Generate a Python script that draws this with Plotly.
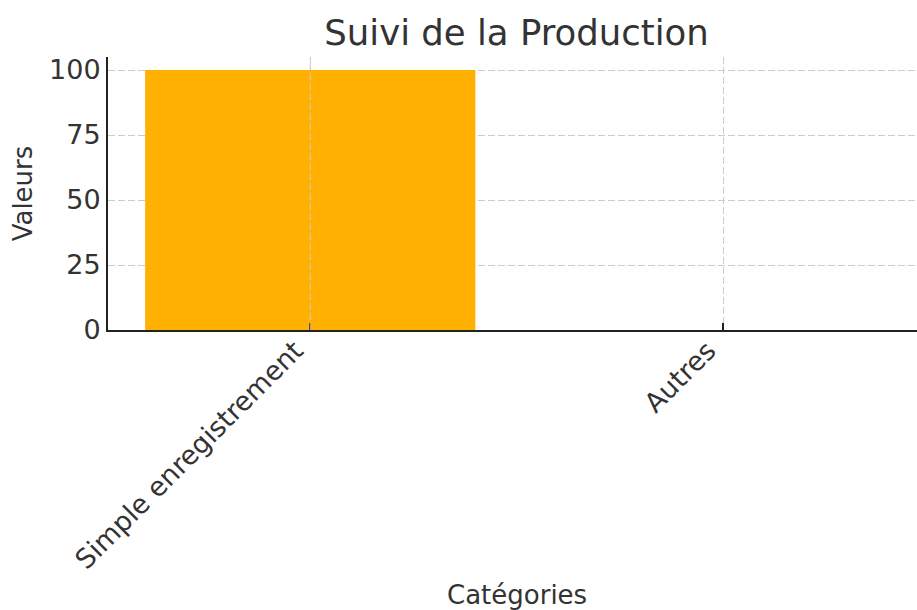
import plotly.graph_objects as go

categories = ["Simple enregistrement", "Autres"]
values = [100, 0]
y_ticks = [0, 25, 50, 75, 100]

title_text = "Suivi de la Production"
x_title = "Catégories"
y_title = "Valeurs"

bar_color = "#FFB000"
text_color = "#333333"
font_family = "DejaVu Sans"
grid_dash = "7px,3px"

W, H = 917, 610
plot_top, plot_bottom, plot_left = 57, 330, 108
plot_h = plot_bottom - plot_top

fig = go.Figure()
fig.add_trace(go.Bar(x=categories, y=values, marker=dict(color=bar_color, line=dict(width=0)),
                     width=0.8, showlegend=False))

# vertical dashed grid line drawn above the first bar (as in the reference)
fig.add_shape(type="line", xref="x", yref="paper", x0=categories[0], x1=categories[0],
              y0=0, y1=1, line=dict(color="#cccccc", width=1, dash=grid_dash), layer="above")

fig.add_annotation(text=x_title, xref="paper", yref="paper", x=0.505,
                   y=-(595 - plot_bottom) / plot_h, xanchor="center", yanchor="middle",
                   showarrow=False, font=dict(size=26, color=text_color, family=font_family))

fig.update_layout(
    width=W, height=H,
    margin=dict(l=plot_left, r=0, t=plot_top, b=H - plot_bottom),
    paper_bgcolor="white", plot_bgcolor="white",
    font=dict(family=font_family, color=text_color, size=26),
    title=dict(text=title_text, x=0.505, xref="paper", xanchor="center",
               y=1 - 33 / H, yref="container", yanchor="middle",
               font=dict(size=35.5, color=text_color, family=font_family)),
)

fig.update_xaxes(
    range=[-0.49, 1.47], automargin=False,
    showline=True, linecolor="#222222", linewidth=2,
    showgrid=True, gridcolor="#cccccc", griddash=grid_dash, gridwidth=1,
    ticks="inside", ticklen=7, tickcolor="#222222", tickwidth=1.5,
    tickangle=-45, tickfont=dict(size=27, color=text_color),
    ticklabelshift=-15, ticklabelstandoff=-8,
    zeroline=False,
)
fig.update_yaxes(
    range=[0, 105], tickvals=y_ticks, automargin=False,
    showline=True, linecolor="#222222", linewidth=2,
    showgrid=True, gridcolor="#cccccc", griddash=grid_dash, gridwidth=1,
    ticks="", tickfont=dict(size=27, color=text_color),
    title=dict(text=y_title, font=dict(size=26, color=text_color), standoff=9),
    zeroline=False,
)

fig.write_html(
    "out.html",
    config={"displayModeBar": False},
    post_script="document.body.style.margin='0';document.body.style.overflow='hidden';",
)
